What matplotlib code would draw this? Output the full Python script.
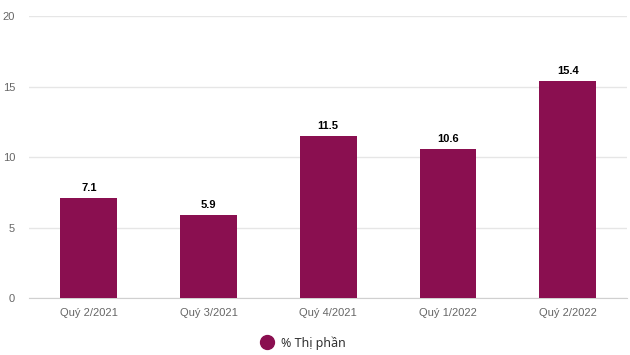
import matplotlib.pyplot as plt
import numpy as np

categories = ['Quý 2/2021', 'Quý 3/2021', 'Quý 4/2021', 'Quý 1/2022', 'Quý 2/2022']
values = [7.1, 5.9, 11.5, 10.6, 15.4]
series_name = '% Thị phần'
color = '#8a0f50'

plt.rcParams['font.family'] = ['Liberation Sans', 'DejaVu Sans']

fig = plt.figure(figsize=(6.3, 3.55), dpi=100)
ax = fig.add_axes([0.046, 0.16, 0.95, 0.795])

x = np.arange(len(categories))
bars = ax.bar(x, values, width=0.475, color=color, zorder=3, label=series_name)
for xi, v in zip(x, values):
    ax.text(xi, v + 0.35, f'{v}', ha='center', va='bottom', fontsize=8,
            fontweight='bold', color='#000000')

ax.set_xlim(-0.5, len(categories) - 0.5)
ax.set_ylim(0, 20)
ax.set_yticks([0, 5, 10, 15, 20])
ax.set_xticks(x)
ax.set_xticklabels(categories)
ax.yaxis.grid(True, color='#e6e6e6', linewidth=1, zorder=0)
for s in ['top', 'right', 'left']:
    ax.spines[s].set_visible(False)
ax.spines['bottom'].set_color('#d0d0d0')
ax.tick_params(axis='both', length=0, colors='#666666', labelsize=8)
ax.tick_params(axis='x', pad=7)
ax.tick_params(axis='y', pad=10)

leg = fig.legend(handles=[plt.Line2D([], [], marker='o', linestyle='', markersize=10,
                                     color=color)],
                 labels=[series_name], loc='center', bbox_to_anchor=(0.476, 0.034),
                 frameon=False, fontsize=9, handletextpad=0.1,
                 prop={'family': ['Noto Sans', 'DejaVu Sans'], 'size': 9})
for t in leg.get_texts():
    t.set_color('#333333')

fig.savefig('out.png', dpi=100)
